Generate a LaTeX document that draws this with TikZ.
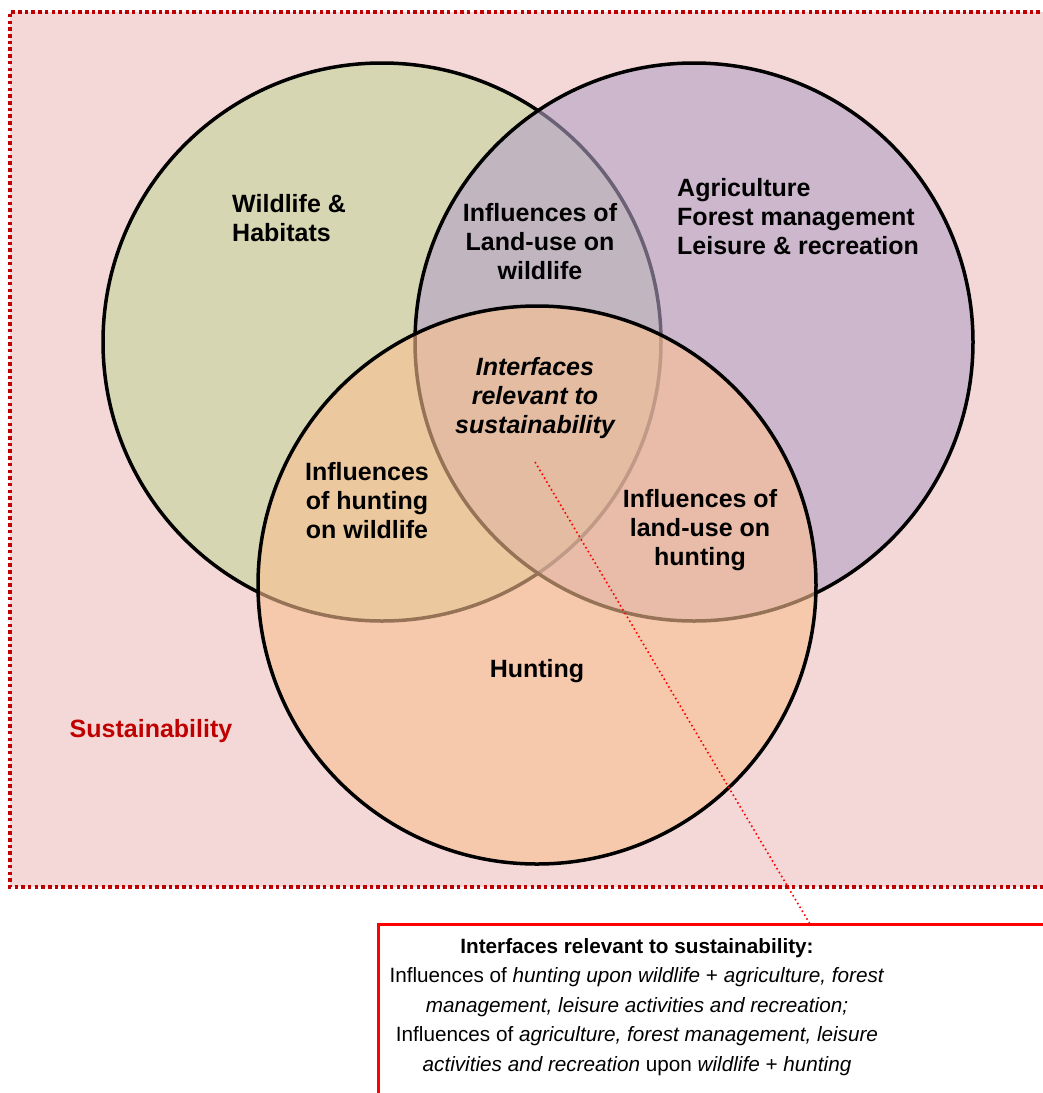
\documentclass[tikz,border=0pt]{standalone}
\usepackage{fontspec}
\setmainfont{Liberation Sans}
\usetikzlibrary{positioning}
\definecolor{frame_red}{HTML}{C00000}
\definecolor{line_red}{HTML}{FF0000}
\definecolor{bg_pink}{HTML}{F4D8D8}
\definecolor{green_fill}{HTML}{C3D69B}
\definecolor{purple_fill}{HTML}{B3A2C7}
\definecolor{orange_fill}{HTML}{FAC090}
\tikzstyle{venn_circle} = [
    circle,
    draw=black,
    line width=3.5pt,
    fill opacity=0.6,
    inner sep=0pt,
    minimum size=558pt % radius 279
]
\tikzstyle{venn_label} = [
    font=\fontsize{25}{29}\selectfont\bfseries,
    inner sep=0pt
]
\tikzstyle{info_text} = [
    font=\fontsize{20.7}{29.5}\selectfont,
    align=center,
    inner sep=0pt
]

\begin{document}
\begin{tikzpicture}[
    x=1pt, y=-1pt,
    frame/.style={
        draw=frame_red,
        line width=4pt,
        dash pattern=on 3.5pt off 3.2pt
    }
]
\useasboundingbox (0,0) rectangle (1043,1093);
\fill[bg_pink] (10,12) rectangle (1060,887);
\draw[frame] (1060,12) -- (10,12) -- (10,887) -- (1060,887);

\node[venn_circle, fill=green_fill] (wildlife) at (382,342) {};
\node[venn_circle, fill=purple_fill] (landuse) at (694,342) {};
\node[venn_circle, fill=orange_fill] (hunting) at (537,585) {};

\node[venn_label, align=left, anchor=west] (wildlife_text) at (232,218) {Wildlife \&\\Habitats};
\node[venn_label, align=left, anchor=west] (landuse_text) at (677,217) {Agriculture\\Forest management\\Leisure \& recreation};
\node[venn_label, align=center] (wl_text) at (540,242) {Influences of\\Land-use on\\wildlife};
\node[venn_label, align=center, font=\fontsize{25}{29}\selectfont\bfseries\itshape] (core_text) at (535,398) {Interfaces\\relevant to\\sustainability};
\node[venn_label, align=center] (wh_text) at (367,501) {Influences\\of hunting\\on wildlife};
\node[venn_label, align=center] (lh_text) at (700,530) {Influences of\\land-use on\\hunting};
\node[venn_label] (hunting_text) at (537,671) {Hunting};
\node[venn_label, text=frame_red] (sust_text) at (151,731) {Sustainability};

\draw[line_red, line width=3pt, fill=white] (1060,924) rectangle (378,1110);
\node[info_text] (info) at (637,1007) {\textbf{Interfaces relevant to sustainability:}\\
    Influences of \textit{hunting upon wildlife} + \textit{agriculture, forest}\\
    \textit{management, leisure activities and recreation;}\\
    Influences of \textit{agriculture, forest management, leisure}\\
    \textit{activities and recreation} upon \textit{wildlife} + \textit{hunting}};

\coordinate (core_tip) at (535,462);
\coordinate (info_top) at (810,924);
\draw[line_red, line width=1.6pt, dash pattern=on 1.6pt off 2.9pt] (core_tip) -- (info_top);
\end{tikzpicture}
\end{document}
